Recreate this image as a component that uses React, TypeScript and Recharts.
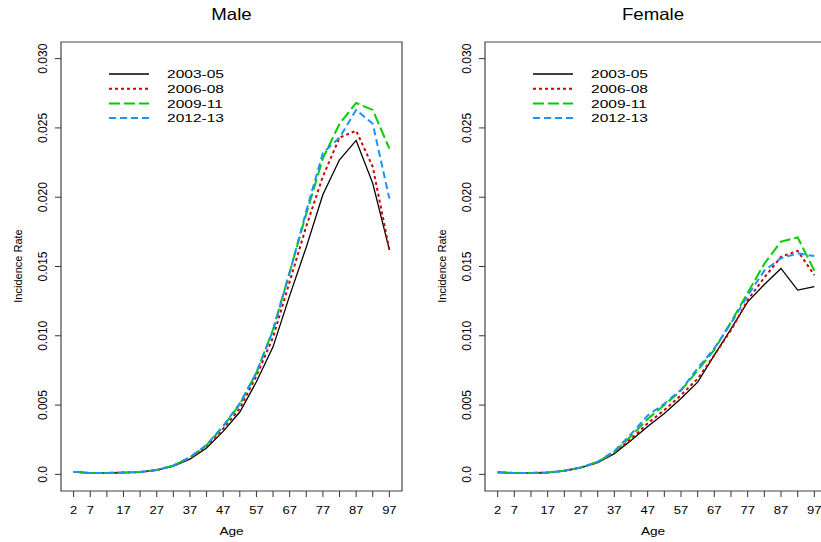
import { LineChart, Line, XAxis, YAxis, ReferenceArea } from 'recharts'

const ages = [2, 7, 12, 17, 22, 27, 32, 37, 42, 47, 52, 57, 62, 67, 72, 77, 82, 87, 92, 97]
const labelledAges = [2, 7, 17, 27, 37, 47, 57, 67, 77, 87, 97]
const rateTicks = [0, 0.005, 0.01, 0.015, 0.02, 0.025, 0.03]
const periods = ['2003-05', '2006-08', '2009-11', '2012-13']

// Male incidence rates by period
const male0305 = [0.00018, 0.0001, 0.0001, 0.00013, 0.00016, 0.0003, 0.0006, 0.0011, 0.0019, 0.0031, 0.0045, 0.00668, 0.0092, 0.0129, 0.0164, 0.0202, 0.0227, 0.0241, 0.021, 0.0162]
const male0608 = [0.00018, 0.0001, 0.0001, 0.00013, 0.00017, 0.00031, 0.00062, 0.00118, 0.002, 0.0033, 0.00476, 0.0071, 0.0099, 0.0139, 0.0179, 0.0215, 0.0243, 0.0248, 0.0222, 0.0162]
const male0911 = [0.00018, 0.0001, 0.0001, 0.00013, 0.00017, 0.00032, 0.00063, 0.00122, 0.0021, 0.00345, 0.00505, 0.00735, 0.01045, 0.0146, 0.0188, 0.0228, 0.0253, 0.0268, 0.0263, 0.0235]
const male1213 = [0.00018, 0.0001, 0.0001, 0.00013, 0.00017, 0.00032, 0.00064, 0.00124, 0.00212, 0.0035, 0.00512, 0.00735, 0.0104, 0.01455, 0.019, 0.0232, 0.0243, 0.0263, 0.0253, 0.0199]

// Female incidence rates by period
const female0305 = [0.00015, 0.0001, 0.0001, 0.00012, 0.00025, 0.00048, 0.00084, 0.0015, 0.00245, 0.00345, 0.0044, 0.00548, 0.00665, 0.0086, 0.0105, 0.01245, 0.0137, 0.01486, 0.0133, 0.01354]
const female0608 = [0.00015, 0.0001, 0.0001, 0.00013, 0.00026, 0.0005, 0.00088, 0.00158, 0.00255, 0.00368, 0.00464, 0.00572, 0.0069, 0.0086, 0.0104, 0.01258, 0.0142, 0.0157, 0.01613, 0.01438]
const female0911 = [0.00015, 0.0001, 0.0001, 0.00013, 0.00026, 0.0005, 0.0009, 0.00162, 0.00275, 0.004, 0.005, 0.00605, 0.0075, 0.009, 0.011, 0.0131, 0.0152, 0.0168, 0.0171, 0.0147]
const female1213 = [0.00015, 0.0001, 0.0001, 0.00013, 0.00026, 0.0005, 0.0009, 0.00168, 0.0029, 0.00425, 0.0051, 0.0061, 0.00765, 0.0091, 0.0109, 0.0129, 0.0147, 0.0156, 0.01595, 0.01575]

const styles = [
  { key: 'p0', color: '#000000', width: 1.3, dash: undefined },
  { key: 'p1', color: '#CD0000', width: 2, dash: '3 3' },
  { key: 'p2', color: '#00CD00', width: 2, dash: '11 4' },
  { key: 'p3', color: '#1E90FF', width: 2, dash: '7 4' },
]

const font = 'Liberation Sans, Arial, sans-serif'
const xDomain = [-1.8, 100.8]
const yDomain = [-0.0012, 0.0312]

const buildRows = (series: number[][]) =>
  ages.map((age, i) => ({
    age,
    p0: series[0][i],
    p1: series[1][i],
    p2: series[2][i],
    p3: series[3][i],
  }))

const maleRows = buildRows([male0305, male0608, male0911, male1213])
const femaleRows = buildRows([female0305, female0608, female0911, female1213])

const XTick = (props: any) => {
  const { x, y, payload } = props
  if (!labelledAges.includes(payload.value)) return <g />
  return (
    <text
      transform={`translate(${x},${y + 15}) scale(1.3,1)`}
      textAnchor='middle'
      fontSize={10}
      fontFamily={font}
      fill='#000'
    >
      {payload.value}
    </text>
  )
}

const YTick = (props: any) => {
  const { x, y, payload } = props
  const v: number = payload.value
  return (
    <text
      transform={`translate(${x - 6},${y}) rotate(-90)`}
      textAnchor='middle'
      fontSize={12}
      fontFamily={font}
      fill='#000'
    >
      {v === 0 ? '0.0' : v.toFixed(3)}
    </text>
  )
}

type PanelProps = {
  rows: any[]
  left: number
  width: number
  axisWidth: number
}

const Panel = ({ rows, left, width, axisWidth }: PanelProps) => (
  <div style={{ position: 'absolute', left, top: 0 }}>
    <LineChart
      width={width}
      height={542}
      data={rows}
      margin={{ top: 42, right: 8, bottom: 0, left: 0 }}
    >
      <XAxis
        dataKey='age'
        type='number'
        domain={xDomain}
        ticks={ages}
        interval={0}
        height={51}
        tickSize={6}
        axisLine={false}
        tickLine={{ stroke: '#333' }}
        tick={XTick}
        allowDataOverflow
      />
      <YAxis
        type='number'
        domain={yDomain}
        ticks={rateTicks}
        width={axisWidth}
        tickSize={6}
        axisLine={false}
        tickLine={{ stroke: '#333' }}
        tick={YTick}
        allowDataOverflow
      />
      <ReferenceArea
        x1={xDomain[0]}
        x2={xDomain[1]}
        y1={yDomain[0]}
        y2={yDomain[1]}
        fill='none'
        stroke='#444'
        strokeWidth={1.2}
        ifOverflow='visible'
      />
      {styles.map((s) => (
        <Line
          key={s.key}
          dataKey={s.key}
          type='linear'
          stroke={s.color}
          strokeWidth={s.width}
          strokeDasharray={s.dash}
          dot={false}
          activeDot={false}
          isAnimationActive={false}
        />
      ))}
    </LineChart>
  </div>
)

const Legend = ({ x }: { x: number }) => (
  <g>
    {periods.map((p, i) => {
      const y = 74 + i * 14.7
      const s = styles[i]
      return (
        <g key={p}>
          <line
            x1={x}
            x2={x + 40}
            y1={y}
            y2={y}
            stroke={s.color}
            strokeWidth={s.width}
            strokeDasharray={s.dash}
          />
          <text
            transform={`translate(${x + 58},${y + 4.3}) scale(1.34,1)`}
            fontSize={11.6}
            fontFamily={font}
            fill='#000'
          >
            {p}
          </text>
        </g>
      )
    })}
  </g>
)

const Titles = () => (
  <svg
    width={821}
    height={542}
    style={{ position: 'absolute', left: 0, top: 0, pointerEvents: 'none' }}
  >
    {[
      { title: 'Male', cx: 231.5, ylab: 22, legendX: 109 },
      { title: 'Female', cx: 653, ylab: 446, legendX: 533 },
    ].map((p) => (
      <g key={p.title} fontFamily={font} fill='#000'>
        <text
          transform={`translate(${p.cx},19.5) scale(1.13,1)`}
          textAnchor='middle'
          fontSize={16.5}
        >
          {p.title}
        </text>
        <text
          transform={`translate(${p.cx},535) scale(1.3,1)`}
          textAnchor='middle'
          fontSize={10.5}
        >
          Age
        </text>
        <text
          transform={`translate(${p.ylab},266) rotate(-90)`}
          textAnchor='middle'
          fontSize={11}
        >
          Incidence Rate
        </text>
        <Legend x={p.legendX} />
      </g>
    ))}
  </svg>
)

export default function App() {
  return (
    <div
      style={{
        position: 'absolute',
        left: 0,
        top: 0,
        width: 821,
        height: 542,
        overflow: 'hidden',
        background: '#fff',
      }}
    >
      <Panel rows={maleRows} left={0} width={410} axisWidth={61} />
      <Panel rows={femaleRows} left={410} width={425} axisWidth={75} />
      <Titles />
    </div>
  )
}
